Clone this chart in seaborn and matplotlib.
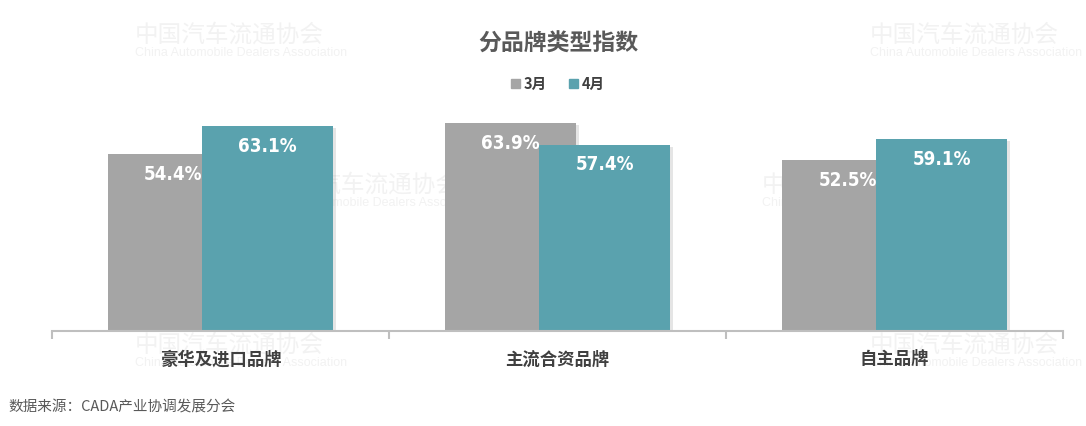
import numpy as np
import pandas as pd
import matplotlib.pyplot as plt
import matplotlib.patheffects as pe
from matplotlib.patches import Rectangle
import seaborn as sns

# --------------------------
# Data
# --------------------------
categories = ['豪华及进口品牌', '主流合资品牌', '自主品牌']
months = ['3月', '4月']
mar_vals = [54.4, 63.9, 52.5]
apr_vals = [63.1, 57.4, 59.1]

grey = '#a5a5a5'
teal = '#5aa2ae'
txt = '#595959'

sns.set_theme(style='white')
plt.rcParams['font.family'] = ['Noto Sans CJK SC', 'DejaVu Sans']

fig = plt.figure(figsize=(10.86, 4.26), dpi=100)
ax = fig.add_axes([52 / 1086, 95 / 426, 1011 / 1086, 231 / 426])
ax.set_facecolor('none')

# bars overlap a bit, like the original
bar_w = 0.386
shift = 0.1395
idx = np.arange(len(categories))

shadow = [pe.SimplePatchShadow(offset=(2.5, -1.5), shadow_rgbFace='#9a9a9a', alpha=0.25), pe.Normal()]

for pos, vals, col in [(idx - shift, mar_vals, grey), (idx + shift, apr_vals, teal)]:
    sns.barplot(x=pos, y=vals, native_scale=True, orient='x', width=bar_w,
                color=col, saturation=1, ax=ax, linewidth=0)

for p in ax.patches:
    p.set_path_effects(shadow)

# value labels inside bars
for pos, vals in [(idx - shift, mar_vals), (idx + shift, apr_vals)]:
    for x, v in zip(pos, vals):
        ax.text(x, v - 6.2, f'{v}%', ha='center', va='center', color='white',
                fontsize=13.5, fontweight='bold', fontstretch='condensed',
                family=['DejaVu Sans'])

ax.set_xlim(-0.5, len(categories) - 0.5)
ax.set_ylim(0, 71.1)
ax.set_yticks([])
ax.set_xticks(idx)
ax.set_xticklabels(categories, fontsize=12.5, fontweight='bold', color='#404040')
ax.set_xticks(np.arange(len(categories) + 1) - 0.5, minor=True)
ax.tick_params(axis='x', which='major', length=0, pad=14)
ax.tick_params(axis='x', which='minor', length=6, width=1.5, color='#bfbfbf', direction='out', bottom=True)
ax.set_xlabel('')
ax.set_ylabel('')
for s in ['top', 'left', 'right']:
    ax.spines[s].set_visible(False)
ax.spines['bottom'].set_color('#bfbfbf')
ax.spines['bottom'].set_linewidth(1.5)

# title, legend, source
fig.text(558 / 1086, 1 - 44 / 426, '分品牌类型指数', ha='center', va='center',
         fontsize=16.5, fontweight='bold', color=txt)
handles = [Rectangle((0, 0), 1, 1, color=grey), Rectangle((0, 0), 1, 1, color=teal)]
leg = fig.legend(handles, months, loc='center', bbox_to_anchor=(558 / 1086, 1 - 84 / 426),
                 ncol=2, frameon=False, handlelength=0.6, handleheight=0.6,
                 handletextpad=0.3, columnspacing=1.5, prop={'size': 10.5, 'weight': 'bold'})
for t in leg.get_texts():
    t.set_color('#404040')
fig.text(8 / 1086, 1 - 408 / 426, '数据来源：CADA产业协调发展分会', ha='left', va='center',
         fontsize=10.5, color=txt)

# faint watermarks
for wx, wy in [(135, 35), (870, 35), (271, 185), (762, 185), (135, 345), (870, 345)]:
    fig.text(wx / 1086, 1 - wy / 426, '中国汽车流通协会', ha='left', va='center',
             fontsize=17, color='#f2f2f2', zorder=-1)
    fig.text(wx / 1086, 1 - (wy + 18) / 426, 'China Automobile Dealers Association',
             ha='left', va='center', fontsize=9, color='#f2f2f2', zorder=-1,
             family=['Liberation Sans', 'DejaVu Sans'])

fig.savefig('out.png', dpi=100)
